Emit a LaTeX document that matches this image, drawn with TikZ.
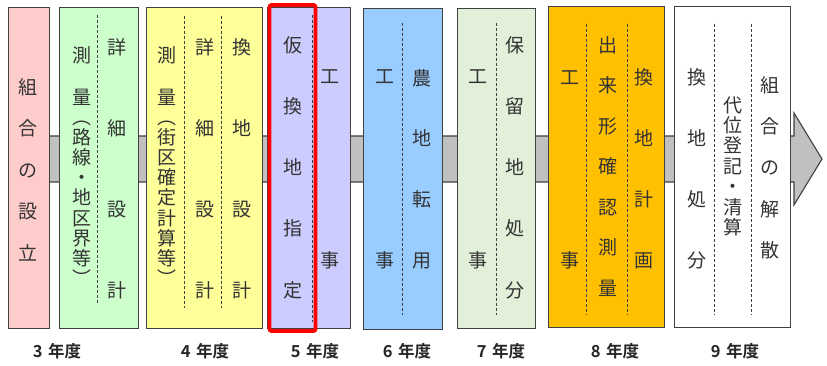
\documentclass[tikz,border=0pt]{standalone}
\usepackage{fontspec}
\newfontfamily\jp{Noto Sans CJK JP}[BoldFont={Noto Sans CJK JP Bold}]
\definecolor{textc}{HTML}{333333}
\definecolor{edgec}{HTML}{404040}
\definecolor{c1}{HTML}{FFCCCC}
\definecolor{c2}{HTML}{CCFFCC}
\definecolor{c3}{HTML}{FFFF99}
\definecolor{c4}{HTML}{CCCCFF}
\definecolor{c5}{HTML}{99CCFF}
\definecolor{c6}{HTML}{E2EFD9}
\definecolor{c7}{HTML}{FFC000}
\definecolor{c8}{HTML}{FFFFFF}
\definecolor{barc}{HTML}{C0C0C0}
\newcommand\vcol[5]{%
  \foreach \ch [count=\i from 0] in {#5} {
    \node[jc] (#1-\i) at (#2,{#3+\i*#4}) {\ch};
  }}
\begin{document}
\begin{tikzpicture}[x=1pt,y=-1pt,
  box/.style={draw=edgec,line width=1.1pt,inner sep=0pt,anchor=north west},
  jc/.style={font=\jp\fontsize{19}{19}\selectfont,text=textc,inner sep=0pt,
    text height=16.7pt,text depth=2.3pt},
  dl/.style={draw=edgec,line width=0.9pt,dash pattern=on 3pt off 2pt},
  yr/.style={font=\jp\bfseries\fontsize{16.5}{16.5}\selectfont,text=black!85,inner sep=0pt},
  hl/.style={draw=red,line width=3.8pt,rounded corners=2pt}]
\useasboundingbox (0,0) rectangle (827,366);
% background band with arrow head
\coordinate (tip) at (822,159);
\draw[fill=barc,draw=edgec,line width=1.1pt]
  (28,136) -- (794,136) -- (794,113) -- (tip) -- (794,205) -- (794,182) -- (28,182) -- cycle;
% boxes
\node[box,fill=c1,minimum width=41pt,minimum height=321pt] (b1) at (8,7) {};
\node[box,fill=c2,minimum width=79pt,minimum height=321pt] (b2) at (59,7) {};
\node[box,fill=c3,minimum width=116pt,minimum height=321pt] (b3) at (146,7) {};
\node[box,fill=c4,minimum width=83pt,minimum height=321pt] (b4) at (267,7) {};
\node[box,fill=c5,minimum width=79pt,minimum height=321pt] (b5) at (363,8) {};
\node[box,fill=c6,minimum width=78pt,minimum height=320pt] (b6) at (457,8) {};
\node[box,fill=c7,minimum width=116pt,minimum height=321pt] (b7) at (548,6) {};
\node[box,fill=c8,minimum width=116pt,minimum height=321pt] (b8) at (674,6) {};
% dashed separators
\draw[dl] (97,15) -- (97,305);
\draw[dl] (184,16) -- (184,308);
\draw[dl] (221,16) -- (221,308);
\draw[dl] (312,15) -- (312,322);
\draw[dl] (402,23) -- (402,315);
\draw[dl] (496,23) -- (496,315);
\draw[dl] (586,24) -- (586,315);
\draw[dl] (627,24) -- (627,315);
\draw[dl] (714,24) -- (714,315);
\draw[dl] (751,24) -- (751,315);
% highlight
\draw[hl] (269.5,5) rectangle (315.5,331);
% texts
\vcol{t1}{28}{87}{41.5}{組,合,の,設,立}
\vcol{t2a}{82}{55}{42}{測,量}
\vcol{t2b}{82}{117}{20.2}{︵,路,線,・,地,区,界,等,︶}
\vcol{t2c}{117}{47}{81}{詳,細,設,計}
\vcol{t3a}{167}{55}{42}{測,量}
\vcol{t3b}{167}{117}{20.2}{︵,街,区,確,定,計,算,等,︶}
\vcol{t3c}{205}{47}{81}{詳,細,設,計}
\vcol{t3d}{242}{47}{81}{換,地,設,計}
\vcol{t4a}{293}{45}{61.25}{仮,換,地,指,定}
\vcol{t4b}{330}{76}{184}{工,事}
\vcol{t5a}{385}{76}{184}{工,事}
\vcol{t5b}{422}{78}{60.7}{農,地,転,用}
\vcol{t6a}{478}{76}{184}{工,事}
\vcol{t6b}{515}{45}{61.25}{保,留,地,処,分}
\vcol{t7a}{570}{77}{183}{工,事}
\vcol{t7b}{608}{45}{40.5}{出,来,形,確,認,測,量}
\vcol{t7c}{644}{77}{61}{換,地,計,画}
\vcol{t8a}{697}{77}{61}{換,地,処,分}
\vcol{t8b}{733}{105}{20.4}{代,位,登,記,・,清,算}
\vcol{t8c}{770}{85}{41.3}{組,合,の,解,散}
% year labels
\node[yr] (y3) at (57,351) {3\,\,年度};
\node[yr] (y4) at (205,351) {4\,\,年度};
\node[yr] (y5) at (315,351) {5\,\,年度};
\node[yr] (y6) at (407,351) {6\,\,年度};
\node[yr] (y7) at (501,351) {7\,\,年度};
\node[yr] (y8) at (615,351) {8\,\,年度};
\node[yr] (y9) at (735,351) {9\,\,年度};
\end{tikzpicture}
\end{document}
